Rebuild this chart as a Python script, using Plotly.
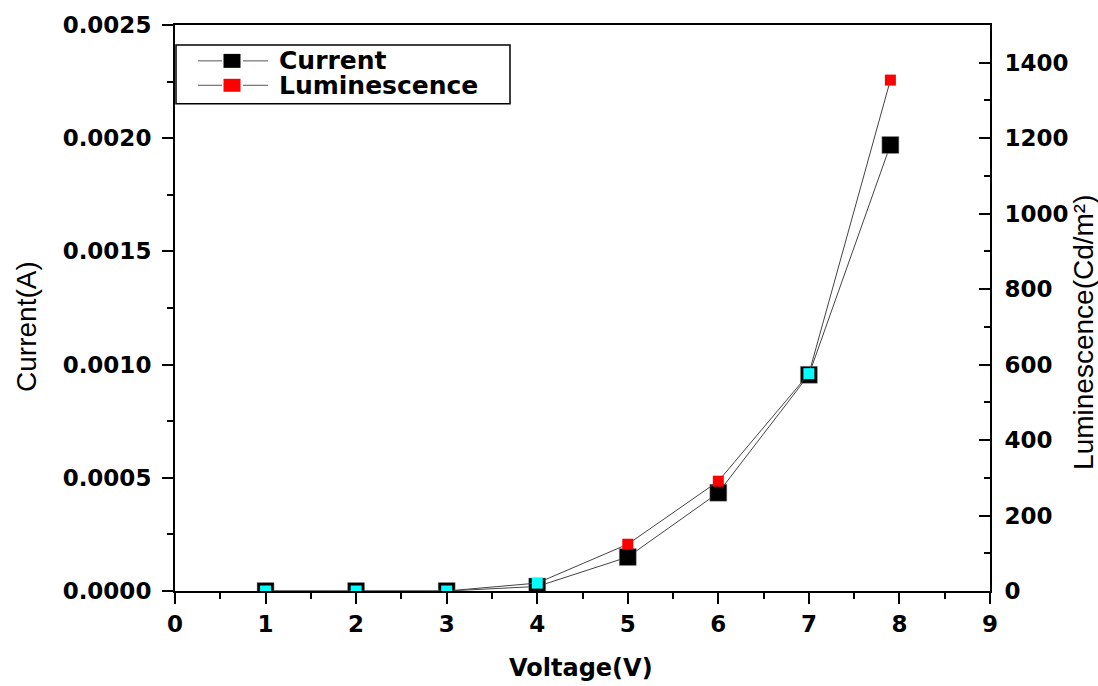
import plotly.graph_objects as go

# ---- data ----
voltage = [1, 2, 3, 4, 5, 6, 7, 7.9]
current = [0.0, 0.0, 0.0, 0.00002, 0.00015, 0.000434, 0.000955, 0.00197]
luminescence = [0, 0, 0, 21, 124, 291, 576, 1354]
lum_colors = ["#00FFFF", "#00FFFF", "#00FFFF", "#00FFFF", "#FF0000", "#FF0000", "#00FFFF", "#FF0000"]
x_ticks = list(range(0, 10))
y_ticks = [0.0, 0.0005, 0.0010, 0.0015, 0.0020, 0.0025]
y2_ticks = [0, 200, 400, 600, 800, 1000, 1200, 1400]

# plot-area geometry in pixels (for converting legend/title positions)
L, R, T, B = 175, 990, 23, 591
def px(x):
    return (x - L) / (R - L)
def py(y):
    return (B - y) / (B - T)

tick_font = dict(family="DejaVu Sans", size=23, color="black", weight="bold")

fig = go.Figure()
fig.add_trace(go.Scatter(
    x=voltage, y=current, name="Current", mode="lines+markers",
    line=dict(color="#444444", width=1),
    marker=dict(symbol="square", size=17, color="black",
                line=dict(color="#999999", width=0.5)),
    showlegend=False,
))
fig.add_trace(go.Scatter(
    x=voltage, y=luminescence, name="Luminescence", mode="lines+markers",
    yaxis="y2",
    line=dict(color="#444444", width=1),
    marker=dict(symbol="square", size=11, color=lum_colors, line=dict(width=0)),
    showlegend=False,
))

axis_common = dict(
    showline=True, linecolor="black", linewidth=2,
    showgrid=False, zeroline=False, tickfont=tick_font,
    tickcolor="black", tickwidth=2,
)

fig.update_layout(
    width=1098, height=686,
    margin=dict(l=L, r=1098 - R, t=T, b=686 - B),
    paper_bgcolor="white", plot_bgcolor="white",
    xaxis=dict(
        range=[0, 9], tickvals=x_ticks, ticks="outside", ticklen=11,
        mirror=True,
        minor=dict(dtick=0.5, ticks="outside", ticklen=6, tickcolor="black", tickwidth=2),
        **axis_common,
    ),
    yaxis=dict(
        range=[0, 0.0025], tickvals=y_ticks, tickformat=".4f",
        ticks="outside", ticklen=11, ticklabelstandoff=6,
        minor=dict(dtick=0.00025, ticks="outside", ticklen=6, tickcolor="black", tickwidth=2),
        **axis_common,
    ),
    yaxis2=dict(
        range=[0, 1500], tickvals=y2_ticks, overlaying="y", side="right",
        ticks="inside", ticklen=11, ticklabelstandoff=8,
        minor=dict(dtick=100, ticks="inside", ticklen=6, tickcolor="black", tickwidth=2),
        **axis_common,
    ),
    showlegend=False,
)

# axis titles
title_font = dict(family="Liberation Sans", size=28, color="black")
fig.add_annotation(text="Current(A)", xref="paper", yref="paper",
                   x=px(27), y=py(326), textangle=-90, showarrow=False,
                   font=title_font, xanchor="center", yanchor="middle")
fig.add_annotation(text="Luminescence(Cd/m²)", xref="paper", yref="paper",
                   x=px(1084), y=py(332), textangle=-90, showarrow=False,
                   font=title_font, xanchor="center", yanchor="middle")
fig.add_annotation(text="Voltage(V)", xref="paper", yref="paper",
                   x=px(581), y=py(668), showarrow=False,
                   font=dict(family="DejaVu Sans", size=24, color="black", weight="bold"),
                   xanchor="center", yanchor="middle")

# legend (drawn manually to match the boxed Origin-style legend)
fig.add_shape(type="rect", xref="paper", yref="paper",
              x0=px(176), x1=px(510), y0=py(102), y1=py(43),
              line=dict(color="black", width=1.5), fillcolor="white", layer="below")
legend_rows = [("Current", "black", 59.0, 17, 14), ("Luminescence", "#FF0000", 83.5, 17, 13)]
for label, col, yc, w, h in legend_rows:
    for a, b in [(198, 222), (243, 268)]:
        fig.add_shape(type="line", xref="paper", yref="paper",
                      x0=px(a), x1=px(b), y0=py(yc), y1=py(yc),
                      line=dict(color="#555555", width=1))
    fig.add_shape(type="rect", xref="paper", yref="paper",
                  x0=px(232 - w / 2), x1=px(232 + w / 2),
                  y0=py(yc + h / 2), y1=py(yc - h / 2),
                  line=dict(width=0), fillcolor=col)
    fig.add_annotation(text=label, xref="paper", yref="paper",
                       x=px(277), y=py(yc), showarrow=False,
                       xanchor="left", yanchor="middle",
                       font=dict(family="DejaVu Sans", size=25, color="black", weight="bold"))

fig.write_html("out.html", config={"displayModeBar": False},
               post_script="document.body.style.margin='0';document.body.style.padding='0';")
